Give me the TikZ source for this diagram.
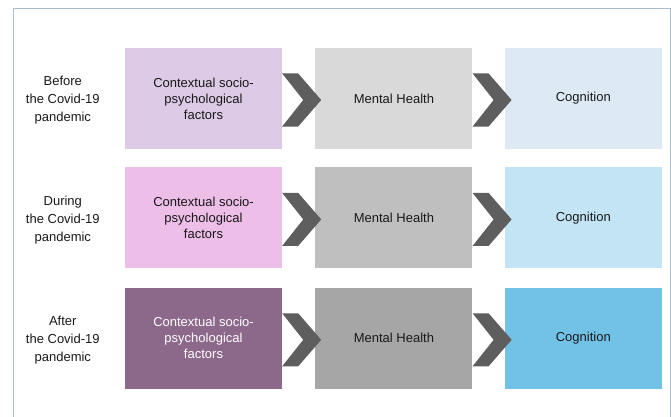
\documentclass[tikz,border=0pt]{standalone}
\usepackage{fontspec}
\setmainfont{Liberation Sans}
\usepackage{xcolor}
\definecolor{framecol}{RGB}{169,188,203}
\definecolor{chevcol}{RGB}{94,94,94}
\definecolor{ctxbefore}{RGB}{220,202,230}
\definecolor{ctxduring}{RGB}{236,190,232}
\definecolor{ctxafter}{RGB}{140,104,138}
\definecolor{mhbefore}{RGB}{217,217,217}
\definecolor{mhduring}{RGB}{191,191,191}
\definecolor{mhafter}{RGB}{166,166,166}
\definecolor{cogbefore}{RGB}{221,234,246}
\definecolor{cogduring}{RGB}{194,228,245}
\definecolor{cogafter}{RGB}{114,194,232}
\usetikzlibrary{positioning}
\newcommand{\chevron}[1]{%
  \fill[chev] ([yshift=25pt]#1.east) -- ++(16pt,0pt) -- ++(23pt,-26.5pt)
    -- ++(-23pt,-26.5pt) -- ++(-16pt,0pt) -- ++(21pt,26.5pt) -- cycle;}
\tikzset{
    common/.style={rectangle, minimum width=157pt, minimum height=101pt, inner sep=2pt,
      align=center, text=black!90, font=\fontsize{13}{16}\selectfont},
    ctx/.style={common, fill=#1},
    mh/.style={common, fill=#1},
    cog/.style={common, fill=#1},
    rowlabel/.style={align=center, text=black!90, font=\fontsize{13}{18}\selectfont},
    chev/.style={chevcol},
    frame/.style={draw=framecol, line width=1pt}
}
\begin{document}
\begin{tikzpicture}[node distance=33pt and 18pt]
      \useasboundingbox (0pt,0pt) rectangle (671pt,-417pt);
      \draw[frame] (13pt,-9pt) rectangle (670pt,-440pt);

      % before
      \node[ctx=ctxbefore] (ctx-before) at (203.5pt,-98.5pt) {Contextual socio-\\psychological\\factors};
      \node[mh=mhbefore, right=33pt of ctx-before] (mh-before) {Mental Health};
      \node[cog=cogbefore, right=32pt of mh-before] (cog-before) {Cognition};
      \node[rowlabel] (lbl-before) at ([xshift=-62pt,yshift=-2pt]ctx-before.west) {Before\\the Covid-19\\pandemic};

      % during
      \node[ctx=ctxduring, below=18pt of ctx-before] (ctx-during) {Contextual socio-\\psychological\\factors};
      \node[mh=mhduring, right=33pt of ctx-during] (mh-during) {Mental Health};
      \node[cog=cogduring, right=32pt of mh-during] (cog-during) {Cognition};
      \node[rowlabel] (lbl-during) at ([xshift=-62pt,yshift=-2pt]ctx-during.west) {During\\the Covid-19\\pandemic};

      % after
      \node[ctx=ctxafter, text=white, below=19pt of ctx-during] (ctx-after) {Contextual socio-\\psychological\\factors};
      \node[mh=mhafter, right=33pt of ctx-after] (mh-after) {Mental Health};
      \node[cog=cogafter, right=32pt of mh-after] (cog-after) {Cognition};
      \node[rowlabel] (lbl-after) at ([xshift=-62pt,yshift=-2pt]ctx-after.west) {After\\the Covid-19\\pandemic};

      \chevron{ctx-before} \chevron{mh-before}
      \chevron{ctx-during} \chevron{mh-during}
      \chevron{ctx-after} \chevron{mh-after}
\end{tikzpicture}
\end{document}
